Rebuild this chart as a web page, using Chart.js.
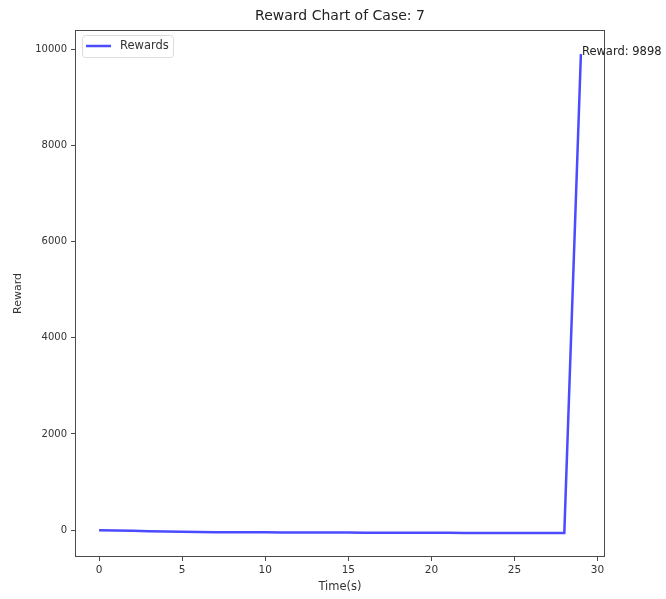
<!DOCTYPE html>
<html>
<head>
<meta charset="utf-8">
<script src="https://cdn.jsdelivr.net/npm/chart.js@4"></script>
<style>
  html, body { margin: 0; padding: 0; background: #fff; }
  #wrap { width: 666px; height: 599px; }
</style>
</head>
<body>
<div id="wrap"><canvas id="reward_chart" width="666" height="599"></canvas></div>
<script>
// chart values
const chartTitle = 'Reward Chart of Case: 7';
const seriesName = 'Rewards';
const times = [0, 1, 2, 3, 4, 5, 6, 7, 8, 9, 10, 11, 12, 13, 14, 15, 16, 17, 18, 19, 20, 21, 22, 23, 24, 25, 26, 27, 28, 29];
const rewards = [0, -7, -14, -21, -28, -34, -40, -42, -44, -45, -46, -47, -48, -49, -50, -51, -52, -53, -54, -55, -55, -56, -57, -57, -58, -58, -59, -59, -60, 9898];
const xTicks = [0, 5, 10, 15, 20, 25, 30];
const yTicks = [0, 2000, 4000, 6000, 8000, 10000];

const FONT = 'DejaVu Sans';
const TEXT = '#333';
const FRAME = '#4a4a4a';
const LINE = '#4b4bff';

// matplotlib style 5% margins around the data
function padRange(arr) {
    const lo = Math.min(...arr), hi = Math.max(...arr);
    const m = (hi - lo) * 0.05;
    return [lo - m, hi + m];
}
const [xMin, xMax] = padRange(times);
const [yMin, yMax] = padRange(rewards);

// frame, title, legend box and the end label
const extras = {
    id: 'extras',
    afterDatasetsDraw(chart) {
        const ctx = chart.ctx;
        const a = chart.chartArea;
        ctx.save();
        ctx.strokeStyle = FRAME;
        ctx.lineWidth = 1;
        ctx.strokeRect(a.left + 0.5, a.top + 0.5, a.right - a.left - 1, a.bottom - a.top - 1);

        // title
        ctx.fillStyle = '#222';
        ctx.font = '14px "' + FONT + '"';
        ctx.textAlign = 'center';
        ctx.textBaseline = 'middle';
        ctx.fillText(chartTitle, (a.left + a.right) / 2, 16);

        // legend
        const lx = a.left + 7, ly = a.top + 5, lw = 91, lh = 22;
        ctx.fillStyle = 'rgba(255,255,255,0.8)';
        ctx.strokeStyle = '#dcdcdc';
        ctx.beginPath();
        ctx.roundRect(lx + 0.5, ly + 0.5, lw, lh, 3);
        ctx.fill();
        ctx.stroke();
        ctx.strokeStyle = LINE;
        ctx.lineWidth = 2.5;
        ctx.beginPath();
        ctx.moveTo(lx + 4, ly + 11);
        ctx.lineTo(lx + 29, ly + 11);
        ctx.stroke();
        ctx.fillStyle = TEXT;
        ctx.font = '11.5px "' + FONT + '"';
        ctx.textAlign = 'left';
        ctx.fillText(seriesName, lx + 38, ly + 11);

        // label at the last point
        const last = rewards.length - 1;
        const px = chart.scales.x.getPixelForValue(times[last]);
        const py = chart.scales.y.getPixelForValue(rewards[last]);
        ctx.fillStyle = '#222';
        ctx.font = '11.5px "' + FONT + '"';
        ctx.textBaseline = 'alphabetic';
        ctx.fillText('Reward: ' + rewards[last], px + 1, py + 1);
        ctx.restore();
    }
};

const ctx = document.getElementById('reward_chart').getContext('2d');
new Chart(ctx, {
    type: 'line',
    data: {
        datasets: [{
            label: seriesName,
            data: times.map((t, i) => ({ x: t, y: rewards[i] })),
            borderColor: LINE,
            borderWidth: 2.5,
            pointRadius: 0,
            tension: 0,
            fill: false
        }]
    },
    options: {
        responsive: false,
        animation: false,
        layout: { padding: { top: 30, left: 0, right: 61, bottom: 0 } },
        plugins: {
            legend: { display: false },
            tooltip: { enabled: false }
        },
        scales: {
            x: {
                type: 'linear',
                min: xMin,
                max: xMax,
                afterBuildTicks: s => { s.ticks = xTicks.map(v => ({ value: v })); },
                afterFit: s => { s.height = 42; },
                grid: { drawOnChartArea: false, drawTicks: true, tickLength: 4, color: FRAME },
                border: { display: false },
                ticks: { color: TEXT, font: { family: FONT, size: 10.5 }, padding: 3, maxRotation: 0, callback: v => String(v) },
                title: { display: true, text: 'Time(s)', color: TEXT, font: { family: FONT, size: 11.5 }, padding: { top: 0, bottom: 5 } }
            },
            y: {
                type: 'linear',
                min: yMin,
                max: yMax,
                afterBuildTicks: s => { s.ticks = yTicks.map(v => ({ value: v })); },
                afterFit: s => { s.width = 75; },
                grid: { drawOnChartArea: false, drawTicks: true, tickLength: 4, color: FRAME },
                border: { display: false },
                ticks: { color: TEXT, font: { family: FONT, size: 10 }, padding: 4, callback: v => String(v) },
                title: { display: true, text: 'Reward', color: TEXT, font: { family: FONT, size: 11 }, padding: { top: 12, bottom: 0 } }
            }
        }
    },
    plugins: [extras]
});
</script>
</body>
</html>
